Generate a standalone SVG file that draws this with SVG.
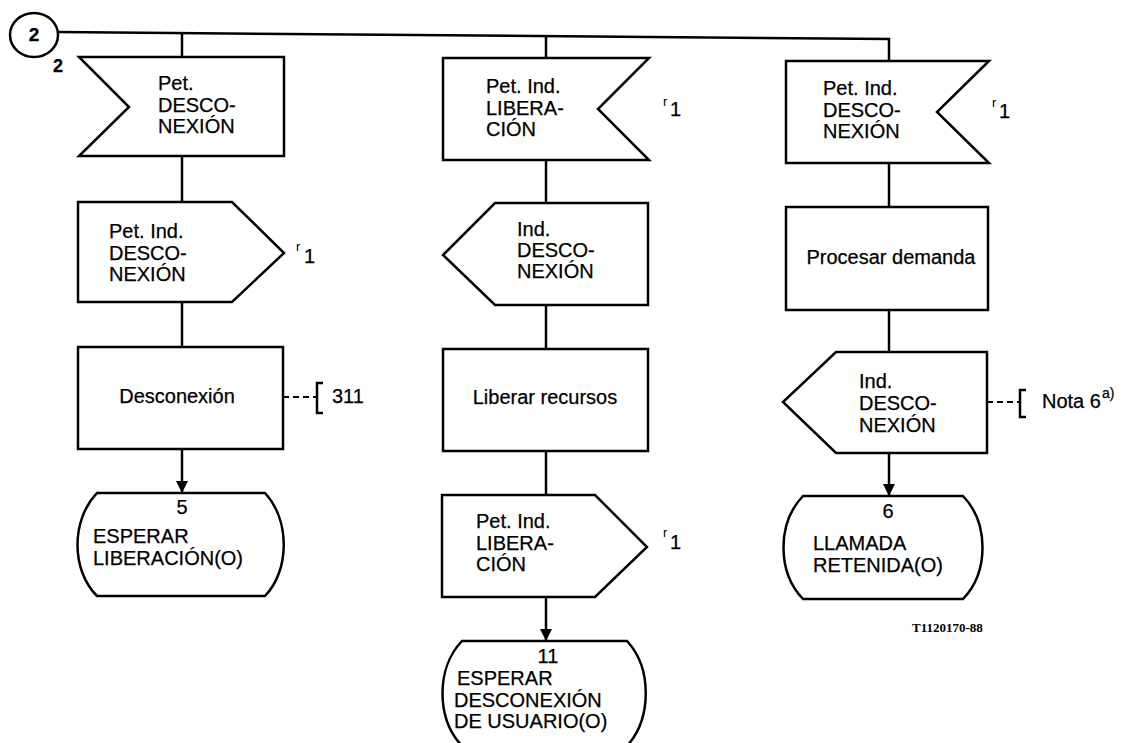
<svg xmlns="http://www.w3.org/2000/svg" width="1136" height="743" viewBox="0 0 1136 743">
  <style>
    .shape { fill: #ffffff; stroke: #000000; stroke-width: 2.5; stroke-linejoin: miter; }
    .line { fill: none; stroke: #000000; stroke-width: 2.5; }
    .dash { fill: none; stroke: #000000; stroke-width: 2; stroke-dasharray: 6 4; }
    .brk { fill: none; stroke: #000000; stroke-width: 2.5; }
    .t { font-family: "Liberation Sans", Arial, sans-serif; font-size: 20px; fill: #000000; stroke: #000000; stroke-width: 0.25; }
    .c { text-anchor: middle; }
    .r { font-family: "Liberation Sans", Arial, sans-serif; font-size: 13px; fill: #000000; }
    .ref { font-family: "Liberation Serif", "Times New Roman", serif; font-size: 13px; font-weight: bold; fill: #000000; }
  </style>
  <defs>
    <marker id="arrow" markerWidth="12" markerHeight="12" refX="12" refY="6" orient="auto" markerUnits="userSpaceOnUse">
      <path d="M0,0 L12,6 L0,12 Z" fill="#000000"/>
    </marker>
  </defs>

  <rect x="0" y="0" width="1136" height="743" fill="#ffffff"/>

  <!-- connectors -->
  <g id="connectors">
    <polyline class="line" points="58,32 889,39 889,61"/>
    <line class="line" x1="182" y1="33" x2="182" y2="57"/>
    <line class="line" x1="182" y1="156" x2="182" y2="202"/>
    <line class="line" x1="182" y1="302" x2="182" y2="347"/>
    <line class="line" x1="182" y1="449" x2="182" y2="493" marker-end="url(#arrow)"/>

    <line class="line" x1="546" y1="36" x2="546" y2="58"/>
    <line class="line" x1="546" y1="160" x2="546" y2="203"/>
    <line class="line" x1="546" y1="305" x2="546" y2="349"/>
    <line class="line" x1="546" y1="451" x2="546" y2="495"/>
    <line class="line" x1="546" y1="597" x2="546" y2="641" marker-end="url(#arrow)"/>

    <line class="line" x1="889" y1="163" x2="889" y2="207"/>
    <line class="line" x1="889" y1="310" x2="889" y2="352"/>
    <line class="line" x1="889" y1="453" x2="889" y2="496" marker-end="url(#arrow)"/>

    <!-- comment links -->
    <line class="dash" x1="283" y1="397" x2="317" y2="397"/>
    <line class="dash" x1="987" y1="402" x2="1020" y2="402"/>
  </g>

  <!-- connector 2 -->
  <g id="connector-2">
    <ellipse class="shape" cx="34" cy="35" rx="24" ry="22"/>
    <text class="t c" x="34" y="41" style="font-weight:bold;font-size:19px">2</text>
    <text class="t c" x="58" y="72" style="font-weight:bold;font-size:18px">2</text>
  </g>

  <!-- column 1 -->
  <g id="in-pet-desconexion">
    <polygon class="shape" points="79,57 284,57 284,156 79,156 129,107"/>
    <text class="t" x="158" y="90">Pet.</text>
    <text class="t" x="158" y="112">DESCO-</text>
    <text class="t" x="158" y="133">NEXIÓN</text>
  </g>

  <g id="out-pet-ind-desconexion">
    <polygon class="shape" points="78,202 232,202 284,253 232,302 78,302"/>
    <text class="t" x="109" y="238">Pet. Ind.</text>
    <text class="t" x="109" y="260">DESCO-</text>
    <text class="t" x="109" y="281">NEXIÓN</text>
    <text class="r" x="296" y="251">r</text>
    <text class="t" x="304" y="263">1</text>
  </g>

  <g id="task-desconexion">
    <rect class="shape" x="78" y="347" width="205" height="102"/>
    <text class="t c" x="177" y="403">Desconexión</text>
    <path class="brk" d="M323,383 L317,383 L317,413 L323,413"/>
    <text class="t" x="332" y="403">311</text>
  </g>

  <g id="state-5">
    <path class="shape" d="M97,493 L265,493 C290,520 290,570 265,596 L97,596 C71,570 71,520 97,493 Z"/>
    <text class="t c" x="182" y="514">5</text>
    <text class="t" x="93" y="543">ESPERAR</text>
    <text class="t" x="93" y="565">LIBERACIÓN(O)</text>
  </g>

  <!-- column 2 -->
  <g id="in-pet-ind-liberacion">
    <polygon class="shape" points="443,58 649,58 598,109 649,160 443,160"/>
    <text class="t" x="486" y="93">Pet. Ind.</text>
    <text class="t" x="486" y="115">LIBERA-</text>
    <text class="t" x="486" y="136">CIÓN</text>
    <text class="r" x="663" y="106">r</text>
    <text class="t" x="670" y="116">1</text>
  </g>

  <g id="out-ind-desconexion-1">
    <polygon class="shape" points="495,203 648,203 648,305 495,305 443,255"/>
    <text class="t" x="517" y="236">Ind.</text>
    <text class="t" x="517" y="257">DESCO-</text>
    <text class="t" x="517" y="278">NEXIÓN</text>
  </g>

  <g id="task-liberar-recursos">
    <rect class="shape" x="443" y="349" width="205" height="102"/>
    <text class="t c" x="545" y="404">Liberar recursos</text>
  </g>

  <g id="out-pet-ind-liberacion">
    <polygon class="shape" points="442,495 595,495 647,547 595,597 442,597"/>
    <text class="t" x="476" y="528">Pet. Ind.</text>
    <text class="t" x="476" y="550">LIBERA-</text>
    <text class="t" x="476" y="571">CIÓN</text>
    <text class="r" x="663" y="537">r</text>
    <text class="t" x="670" y="549">1</text>
  </g>

  <g id="state-11">
    <path class="shape" d="M462,641 L627,641 C652,668 652,718 627,746 L462,746 C436,718 436,668 462,641 Z"/>
    <text class="t c" x="548" y="663">11</text>
    <text class="t" x="457" y="685">ESPERAR</text>
    <text class="t" x="454" y="707">DESCONEXIÓN</text>
    <text class="t" x="454" y="728">DE USUARIO(O)</text>
  </g>

  <!-- column 3 -->
  <g id="in-pet-ind-desconexion">
    <polygon class="shape" points="786,61 989,61 937,112 989,163 786,163"/>
    <text class="t" x="823" y="95">Pet. Ind.</text>
    <text class="t" x="823" y="117">DESCO-</text>
    <text class="t" x="823" y="138">NEXIÓN</text>
    <text class="r" x="992" y="107">r</text>
    <text class="t" x="999" y="118">1</text>
  </g>

  <g id="task-procesar-demanda">
    <rect class="shape" x="786" y="207" width="202" height="103"/>
    <text class="t c" x="891" y="264">Procesar demanda</text>
  </g>

  <g id="out-ind-desconexion-2">
    <polygon class="shape" points="836,352 987,352 987,453 836,453 783,402"/>
    <text class="t" x="859" y="388">Ind.</text>
    <text class="t" x="859" y="410">DESCO-</text>
    <text class="t" x="859" y="432">NEXIÓN</text>
    <path class="brk" d="M1026,390 L1020,390 L1020,417 L1026,417"/>
    <text class="t" x="1042" y="408">Nota 6</text>
    <text class="t" x="1102" y="398" style="font-size:14px">a)</text>
  </g>

  <g id="state-6">
    <path class="shape" d="M803,496 L963,496 C989,523 989,572 963,599 L803,599 C777,572 777,523 803,496 Z"/>
    <text class="t c" x="888" y="518">6</text>
    <text class="t" x="813" y="550">LLAMADA</text>
    <text class="t" x="813" y="572">RETENIDA(O)</text>
  </g>

  <text class="ref" x="912" y="632">T1120170-88</text>
</svg>
